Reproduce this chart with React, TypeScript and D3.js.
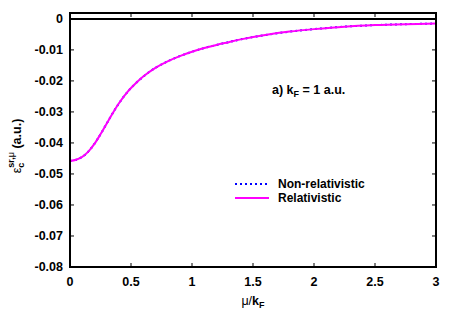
import React, { useEffect, useRef } from "react";
import * as d3 from "d3";

const mu = [0, 0.05, 0.1, 0.15, 0.2, 0.25, 0.3, 0.35, 0.4, 0.45, 0.5, 0.6, 0.7, 0.8, 0.9, 1.0, 1.1, 1.2, 1.3, 1.4, 1.6, 1.8, 2.0, 2.25, 2.5, 2.75, 3.0];
const nonRel = [-0.0458, -0.0454, -0.0445, -0.0428, -0.0403, -0.0372, -0.0338, -0.0304, -0.0273, -0.0246, -0.0223, -0.0186, -0.0158, -0.0137, -0.0120, -0.0106, -0.0094, -0.0084, -0.0075, -0.0066, -0.0052, -0.0041, -0.0033, -0.0025, -0.0020, -0.0017, -0.0015];
const rel = [-0.0458, -0.0454, -0.0445, -0.0428, -0.0403, -0.0372, -0.0338, -0.0304, -0.0273, -0.0246, -0.0223, -0.0186, -0.0158, -0.0137, -0.0120, -0.0106, -0.0094, -0.0084, -0.0075, -0.0066, -0.0052, -0.0041, -0.0033, -0.0025, -0.0020, -0.0017, -0.0015];
const xTicks = [0, 0.5, 1, 1.5, 2, 2.5, 3];
const yTicks = [0, -0.01, -0.02, -0.03, -0.04, -0.05, -0.06, -0.07, -0.08];

const W = 459;
const H = 322;
const margin = { left: 70, right: 23, top: 13, bottom: 55 };

export default function App() {
  const ref = useRef<SVGSVGElement>(null);

  useEffect(() => {
    const svg = d3.select(ref.current);
    svg.selectAll("*").remove();
    const font = "'Liberation Sans', Arial, sans-serif";
    const fs = 12.5;

    const x = d3.scaleLinear().domain([0, 3]).range([margin.left, W - margin.right]);
    const y = d3.scaleLinear().domain([-0.08, 0.0019]).range([H - margin.bottom, margin.top]);

    const x0 = margin.left, x1 = W - margin.right;
    const y0 = H - margin.bottom, y1 = margin.top;

    // zero axis
    svg.append("line")
      .attr("x1", x0).attr("x2", x1)
      .attr("y1", y(0)).attr("y2", y(0))
      .attr("stroke", "black").attr("stroke-width", 2);

    // ticks (inward, mirrored)
    const tk = svg.append("g").attr("stroke", "black").attr("stroke-width", 1);
    xTicks.forEach(t => {
      tk.append("line").attr("x1", x(t)).attr("x2", x(t)).attr("y1", y0).attr("y2", y0 - 4);
      tk.append("line").attr("x1", x(t)).attr("x2", x(t)).attr("y1", y1).attr("y2", y1 + 4);
    });
    yTicks.forEach(t => {
      tk.append("line").attr("x1", x0).attr("x2", x0 + 4).attr("y1", y(t)).attr("y2", y(t));
      tk.append("line").attr("x1", x1).attr("x2", x1 - 4).attr("y1", y(t)).attr("y2", y(t));
    });

    const pts = (vals: number[]) => mu.map((m, i) => [m, vals[i]] as [number, number]);
    const line = d3.line<[number, number]>()
      .x(d => x(d[0])).y(d => y(d[1]))
      .curve(d3.curveCatmullRom.alpha(0.5));

    svg.append("path")
      .attr("d", line(pts(nonRel)))
      .attr("fill", "none").attr("stroke", "#0000ff")
      .attr("stroke-width", 2).attr("stroke-dasharray", "2,3");
    svg.append("path")
      .attr("d", line(pts(rel)))
      .attr("fill", "none").attr("stroke", "#ff00ff")
      .attr("stroke-width", 2);

    // frame
    svg.append("rect")
      .attr("x", x0).attr("y", y1)
      .attr("width", x1 - x0).attr("height", y0 - y1)
      .attr("fill", "none").attr("stroke", "black").attr("stroke-width", 2);

    // tick labels
    const fmtY = (t: number) => (t === 0 ? "0" : t.toFixed(2));
    svg.append("g").selectAll("text").data(yTicks).enter().append("text")
      .attr("x", x0 - 7).attr("y", d => y(d)).attr("dy", "0.35em")
      .attr("text-anchor", "end")
      .attr("font-family", font).attr("font-weight", "bold").attr("font-size", fs)
      .text(d => fmtY(d));
    svg.append("g").selectAll("text").data(xTicks).enter().append("text")
      .attr("x", d => x(d)).attr("y", y0 + 15).attr("dy", "0.35em")
      .attr("text-anchor", "middle")
      .attr("font-family", font).attr("font-weight", "bold").attr("font-size", fs)
      .text(d => String(d));

    // x label
    const xl = svg.append("text")
      .attr("x", (x0 + x1) / 2).attr("y", 305)
      .attr("text-anchor", "middle")
      .attr("font-family", font).attr("font-size", fs);
    xl.append("tspan").text("μ/");
    xl.append("tspan").attr("font-weight", "bold").text("k");
    xl.append("tspan").attr("font-weight", "bold").attr("font-size", 9).attr("dy", 3).text("F");

    // y label
    const yl = svg.append("text")
      .attr("transform", `translate(21, ${(y0 + y1) / 2 + 6}) rotate(-90)`)
      .attr("text-anchor", "middle")
      .attr("font-family", font).attr("font-size", fs);
    yl.append("tspan").text("ε");
    yl.append("tspan").attr("font-weight", "bold").attr("font-size", 9).attr("dy", 3).text("c");
    yl.append("tspan").attr("font-weight", "bold").attr("font-size", 9).attr("dy", -10).attr("dx", -5).text("sr,");
    yl.append("tspan").attr("font-size", 9).text("μ");
    yl.append("tspan").attr("font-weight", "bold").attr("dy", 7).text(" (a.u.)");

    // annotation
    const an = svg.append("text")
      .attr("x", 272).attr("y", 94)
      .attr("font-family", font).attr("font-weight", "bold").attr("font-size", fs);
    an.append("tspan").text("a) k");
    an.append("tspan").attr("font-size", 9).attr("dy", 3).text("F");
    an.append("tspan").attr("dy", -3).text(" = 1 a.u.");

    // legend
    const lg = [
      { label: "Non-relativistic", color: "#0000ff", dash: "2,3", cy: 184 },
      { label: "Relativistic", color: "#ff00ff", dash: null, cy: 198 },
    ];
    lg.forEach(l => {
      svg.append("line")
        .attr("x1", 235).attr("x2", 269).attr("y1", l.cy).attr("y2", l.cy)
        .attr("stroke", l.color).attr("stroke-width", 2)
        .attr("stroke-dasharray", l.dash);
      svg.append("text")
        .attr("x", 278).attr("y", l.cy).attr("dy", "0.35em")
        .attr("font-family", font).attr("font-weight", "bold").attr("font-size", 12)
        .text(l.label);
    });
  }, []);

  return <svg ref={ref} width={W} height={H} style={{ display: "block", position: "absolute", left: 0, top: 0 }} />;
}
